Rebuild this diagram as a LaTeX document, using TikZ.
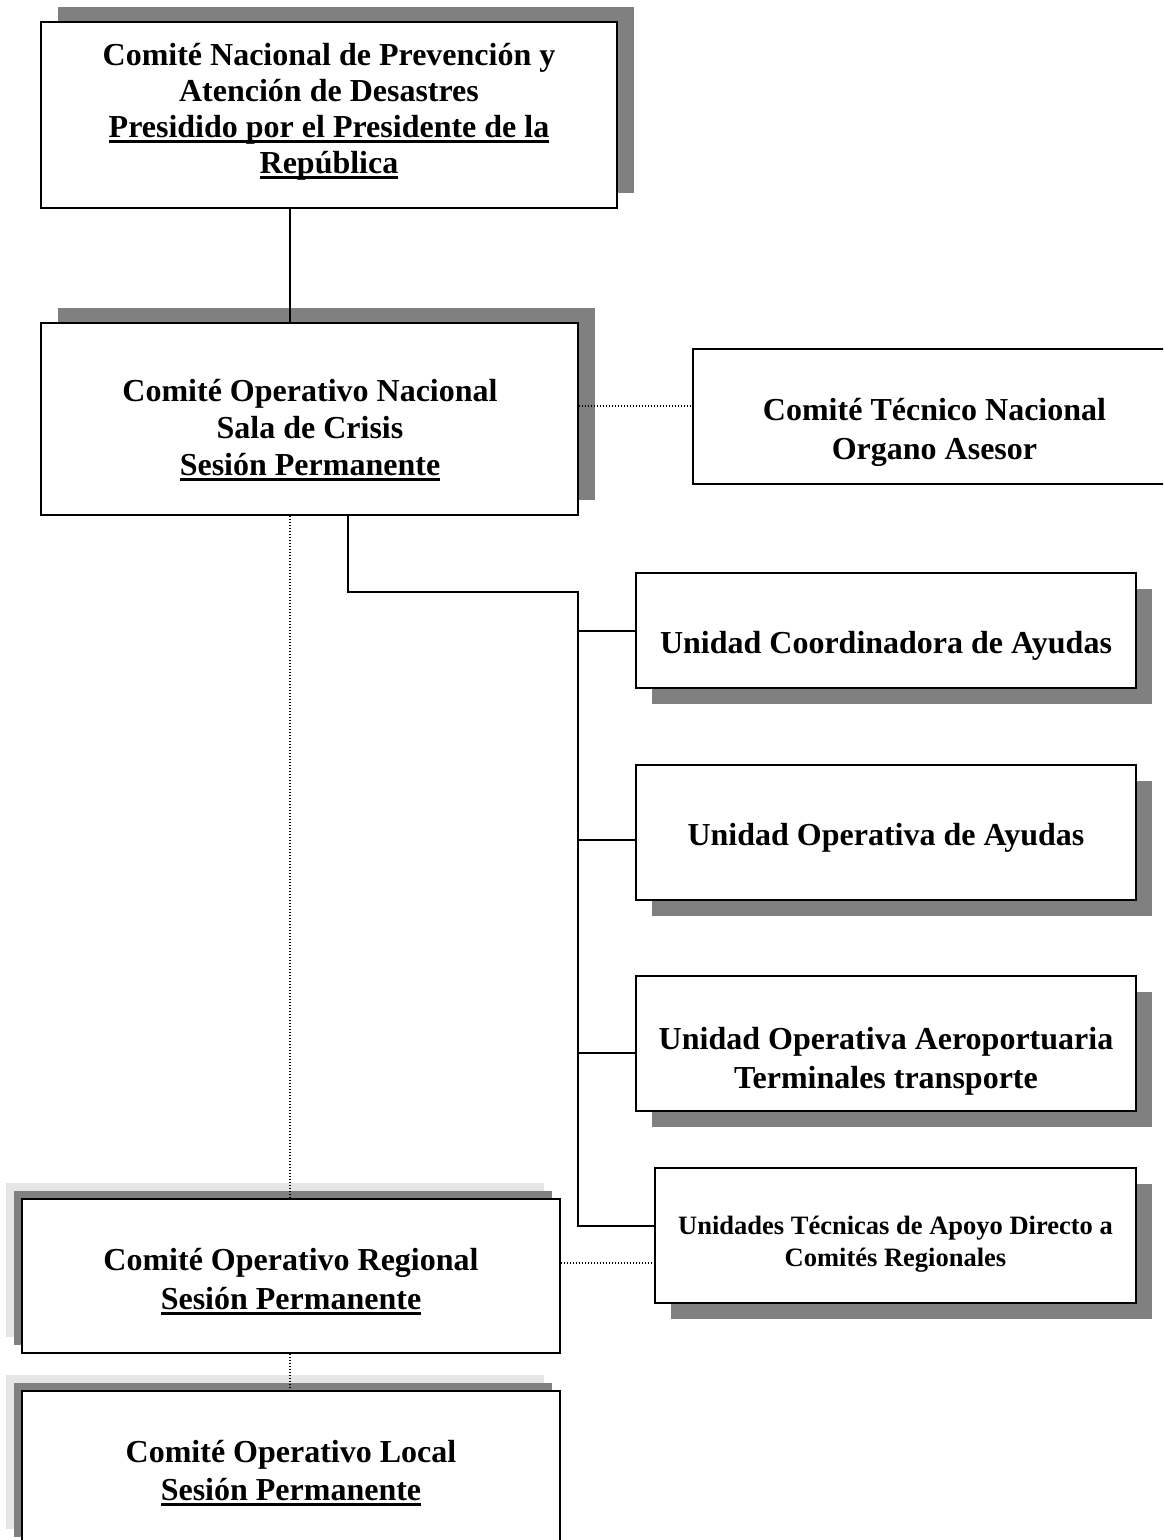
\documentclass[tikz,border=0pt]{standalone}
\usepackage{fontspec}
\setmainfont{Liberation Serif}
\usetikzlibrary{shadows}
\definecolor{shadowdark}{HTML}{808080}
\definecolor{shadowlight}{HTML}{E6E6E6}
\newcommand\myul[1]{\setbox0=\hbox{#1}\rlap{\rule[-5.5pt]{\wd0}{2.4pt}}\box0}
\newcommand\txtlines[2]{\vtop{\baselineskip=#1\lineskiplimit=-100pt\lineskip=0pt\halign{\hfil##\hfil\cr#2\crcr}}}
\tikzset{
  orgbox/.style={draw=black, line width=1.8pt, fill=white, rectangle, inner sep=0pt},
  shadowUR/.style={drop shadow={shadow xshift=17pt, shadow yshift=15pt, fill=shadowdark, opacity=1}},
  shadowDR/.style={drop shadow={shadow xshift=16pt, shadow yshift=-16pt, fill=shadowdark, opacity=1}},
  shadowUL/.style={drop shadow={shadow xshift=-16pt, shadow yshift=16pt, fill=shadowlight, opacity=1},
                   drop shadow={shadow xshift=-8pt, shadow yshift=8pt, fill=shadowdark, opacity=1}},
  txt/.style={inner sep=0pt, anchor=base, font=\fontsize{32}{37}\selectfont\bfseries},
  smalltxt/.style={inner sep=0pt, anchor=base, font=\fontsize{26.5}{29}\selectfont\bfseries},
  conn/.style={draw=black, line width=1.8pt},
  dotline/.style={draw=black, line width=1.6pt, dash pattern=on 1.4pt off 1.6pt}
}
\begin{document}
\begin{tikzpicture}[x=1pt,y=-1pt]
\useasboundingbox (0,0) rectangle (1163,1540);
\begin{scope}
\clip (0,0) rectangle (1163,1540);
% boxes
\node[orgbox, shadowUR, minimum width=576pt, minimum height=186pt] (b1) at (329,115) {};
\node[orgbox, shadowUR, minimum width=537pt, minimum height=192pt] (b2) at (309.5,419) {};
\node[orgbox, minimum width=483pt, minimum height=135pt] (tech) at (934.5,416.5) {};
\node[orgbox, shadowDR, minimum width=500pt, minimum height=115pt] (u1) at (886,630.5) {};
\node[orgbox, shadowDR, minimum width=500pt, minimum height=135pt] (u2) at (886,832.5) {};
\node[orgbox, shadowDR, minimum width=500pt, minimum height=135pt] (u3) at (886,1043.5) {};
\node[orgbox, shadowDR, minimum width=481pt, minimum height=135pt] (u4) at (895.5,1235.5) {};
\node[orgbox, shadowUL, minimum width=538pt, minimum height=154pt] (reg) at (291,1276) {};
\node[orgbox, shadowUL, minimum width=538pt, minimum height=154pt] (loc) at (291,1468) {};
% texts
\node[txt] (b1t) at (329,65) {\txtlines{36pt}{Comité Nacional de Prevención y\cr Atención de Desastres\cr \myul{Presidido por el Presidente de la}\cr \myul{República}}};
\node[txt] (b2t) at (310,401) {\txtlines{37pt}{Comité Operativo Nacional\cr Sala de Crisis\cr \myul{Sesión Permanente}}};
\node[txt] (techt) at (934.5,420) {\txtlines{39pt}{Comité Técnico Nacional\cr Organo Asesor}};
\node[txt] (u1t) at (886,653) {Unidad Coordinadora de Ayudas};
\node[txt] (u2t) at (886,845) {Unidad Operativa de Ayudas};
\node[txt] (u3t) at (886,1049) {\txtlines{39pt}{Unidad Operativa Aeroportuaria\cr Terminales transporte}};
\node[smalltxt] (u4t) at (895.5,1234) {\txtlines{32pt}{Unidades Técnicas de Apoyo Directo a\cr Comités Regionales}};
\node[txt] (regt) at (291,1270) {\txtlines{39pt}{Comité Operativo Regional\cr \myul{Sesión Permanente}}};
\node[txt] (loct) at (291,1462) {\txtlines{38pt}{Comité Operativo Local\cr \myul{Sesión Permanente}}};
% connectors
\coordinate (vx) at (290,0);
\coordinate (sx) at (348,0);
\coordinate (hy) at (0,406);
\coordinate (hy2) at (0,1263);
\coordinate (trunk) at (578,592);
\coordinate (ut) at (578,1226);
\coordinate (br1) at (578,631);
\coordinate (br2) at (578,840);
\coordinate (br3) at (578,1053);
\draw[conn] (b1.south -| vx) -- (b2.north -| vx);
\draw[dotline] (b2.east |- hy) -- (tech.west |- hy);
\draw[conn] (b2.south -| sx) |- (trunk) -- (ut) -- (ut -| u4.west);
\draw[conn] (br1) -- (br1 -| u1.west);
\draw[conn] (br2) -- (br2 -| u2.west);
\draw[conn] (br3) -- (br3 -| u3.west);
\draw[dotline] (b2.south -| vx) -- (reg.north -| vx);
\draw[dotline] (reg.south -| vx) -- (loc.north -| vx);
\draw[dotline] (reg.east |- hy2) -- (u4.west |- hy2);
\end{scope}
\end{tikzpicture}
\end{document}
